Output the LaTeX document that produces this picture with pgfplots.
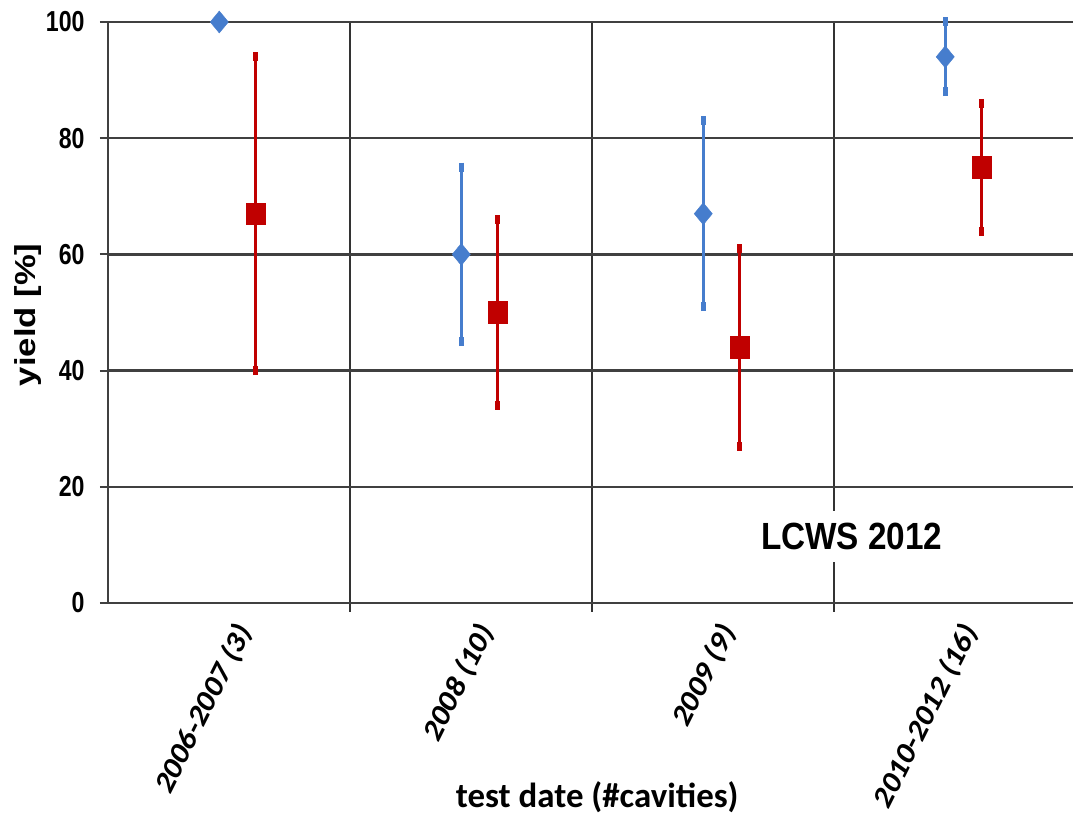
\documentclass[border=0pt]{standalone}
\usepackage{pgfplots}
\usepackage{pgfplotstable}
\usepackage{fontspec}
\pgfplotsset{compat=1.18}
\setmainfont{Liberation Sans}
\newfontfamily\tickfont[FakeStretch=0.8]{Liberation Sans}
\newfontfamily\lcwsfont[FakeStretch=0.88]{Liberation Sans}
\newfontfamily\ylabfont[FakeStretch=1.2]{Liberation Sans}
\newfontfamily\xlabfont{Carlito}
\newfontfamily\xtickfont{Carlito}
\definecolor{cblue}{RGB}{70,125,205}
\definecolor{cred}{RGB}{192,0,0}
\pgfplotstableread{
x y ep em
0.96 100 0 0
1.96 60 15 15
2.96 67 16 16
3.96 94 6 6
}\blueser
\pgfplotstableread{
x y ep em
1.11 67 27 27
2.11 50 16 16
3.11 44 17 17
4.11 75 11 11
}\redser
\begin{document}
\begin{tikzpicture}
\useasboundingbox (0,0) rectangle (1073bp,818bp);
\begin{axis}[
  at={(108bp,215bp)}, anchor=south west,
  scale only axis, width=965bp, height=581bp,
  xmin=0.5, xmax=4.488, ymin=0, ymax=100,
  axis x line=bottom, axis y line=left,
  axis line style={-, black!75},
  x axis line style={line width=2.5bp},
  y axis line style={line width=2bp},
  xtick={1,2,3,4},
  xticklabels={2006-2007 (3), 2008 (10), 2009 (9), 2010-2012 (16)},
  minor xtick={1.5,2.5,3.5},
  xminorgrids=true,
  minor grid style={line width=1.5bp, black!80},
  ytick={0,20,40,60,80,100},
  ymajorgrids=true,
  major grid style={line width=2.5bp, black!75},
  tick align=outside,
  major tick length=8bp,
  minor tick length=9bp,
  x tick style={draw=none},
  minor x tick style={draw=black!80, line width=1.5bp},
  y tick style={black!75, line width=2bp},
  /pgf/number format/assume math mode=true,
  yticklabel style={font=\tickfont\bfseries\fontsize{29}{31}\selectfont, xshift=-12bp},
  xticklabel style={font=\xtickfont\bfseries\fontsize{28}{30}\selectfont, anchor=east,
     xshift=18bp, yshift=-12bp,
     cm={0.515,1.029,-0.857,0.618,(0,0)}},
  every axis y label/.style={at={(axis description cs:-0.0829,0.496)}, rotate=90, anchor=center},
  ylabel={\ylabfont\bfseries\fontsize{29}{31}\selectfont yield [\%]},
  every axis x label/.style={at={(axis description cs:0.507,-0.334)}, anchor=center},
  xlabel={\xlabfont\bfseries\fontsize{35}{37}\selectfont test date (\#cavities)},
  clip=false,
]
\addplot[only marks, color=cblue, mark=diamond*, mark size=11bp, mark options={xscale=1.1},
  error bars/.cd, y dir=both, y explicit,
  error bar style={line width=3bp, cblue},
  error mark=-, error mark options={line width=5bp, mark size=4.5bp, cblue}]
  table[x=x, y=y, y error plus=ep, y error minus=em] {\blueser};
\addplot[only marks, color=cred, mark=square*, mark size=9.5bp, mark options={yscale=1.15},
  error bars/.cd, y dir=both, y explicit,
  error bar style={line width=3.5bp, cred},
  error mark=-, error mark options={line width=5bp, mark size=4.5bp, cred}]
  table[x=x, y=y, y error plus=ep, y error minus=em] {\redser};
\node[fill=white, inner xsep=4bp, inner ysep=12bp, font=\lcwsfont\bfseries\fontsize{38}{40}\selectfont]
  at (axis cs:3.574,11.4) {LCWS 2012};
\end{axis}
\end{tikzpicture}
\end{document}
